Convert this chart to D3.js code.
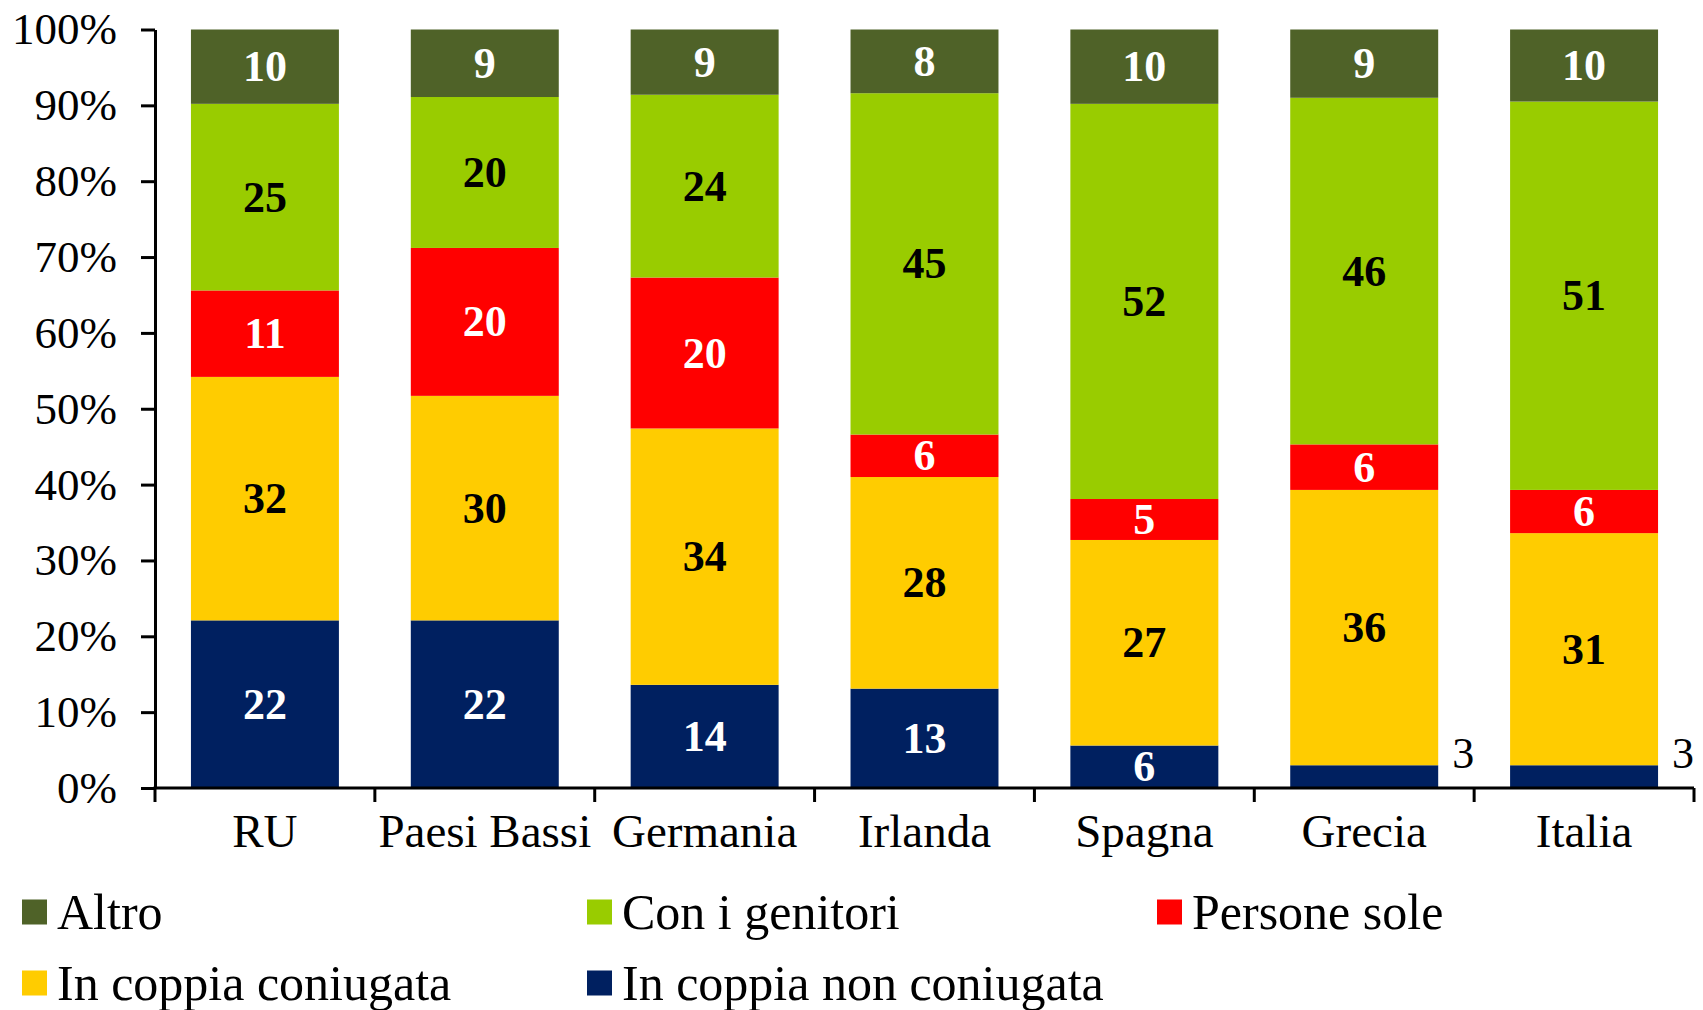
<!DOCTYPE html>
<meta charset="utf-8">
<style>
  body { margin: 0; background: #fff; }
  text { font-family: "Liberation Serif", "Times New Roman", serif; }
</style>
<svg width="1703" height="1010"></svg>
<script src="https://d3js.org/d3.v7.min.js"></script>
<script>

// dati (percentuali)
var categories = ["RU", "Paesi Bassi", "Germania", "Irlanda", "Spagna", "Grecia", "Italia"];
var seriesNames = ["In coppia non coniugata", "In coppia coniugata", "Persone sole", "Con i genitori", "Altro"];
var nonConiugata = [22.1, 22.1, 13.6, 13.1, 5.6, 3.0, 3.0];
var coniugata    = [32.1, 29.6, 33.8, 27.9, 27.1, 36.3, 30.6];
var sole         = [11.4, 19.5, 19.9, 5.6, 5.4, 6.0, 5.7];
var genitori     = [24.6, 19.9, 24.1, 45.0, 52.1, 45.7, 51.2];
var altro        = [9.8, 8.9, 8.6, 8.4, 9.8, 9.0, 9.5];
var yTicks = [0, 10, 20, 30, 40, 50, 60, 70, 80, 90, 100];

var colors = ["#002060", "#FFCC00", "#FF0000", "#99CC00", "#4F6228"];
var labelColors = ["#fff", "#000", "#fff", "#000", "#fff"];

var rows = categories.map(function(c, i) {
  return {
    cat: c,
    "In coppia non coniugata": nonConiugata[i],
    "In coppia coniugata": coniugata[i],
    "Persone sole": sole[i],
    "Con i genitori": genitori[i],
    "Altro": altro[i]
  };
});

var svg = d3.select("svg");

var x = d3.scaleBand().domain(categories).range([155, 1694]).padding(0);
var barW = x.bandwidth() * 0.673;
var y = d3.scaleLinear().domain([0, 100]).range([788, 29.5]);

var stack = d3.stack().keys(seriesNames)(rows);

// barre
var layer = svg.append("g").selectAll("g")
  .data(stack)
  .enter().append("g")
    .attr("fill", function(d, i) { return colors[i]; });

layer.selectAll("rect")
  .data(function(d) { return d; })
  .enter().append("rect")
    .attr("x", function(d) { return x(d.data.cat) + (x.bandwidth() - barW) / 2; })
    .attr("width", barW)
    .attr("y", function(d) { return y(d[1]); })
    .attr("height", function(d) { return y(d[0]) - y(d[1]); });

// etichette valori (i segmenti piccoli hanno l'etichetta fuori, a destra)
function small(d) { return (d[1] - d[0]) < 4; }

layer.each(function(s, si) {
  d3.select(this).selectAll("text")
    .data(s)
    .enter().append("text")
      .attr("font-size", "44px")
      .attr("font-weight", function(d) { return small(d) ? "normal" : "bold"; })
      .attr("text-anchor", function(d) { return small(d) ? "start" : "middle"; })
      .attr("x", function(d) {
        var x0 = x(d.data.cat) + (x.bandwidth() - barW) / 2;
        return small(d) ? x0 + barW + 14 : x0 + barW / 2;
      })
      .attr("y", function(d) {
        return small(d) ? y(d[1]) - 12 : y((d[0] + d[1]) / 2);
      })
      .attr("dy", "0.33em")
      .attr("fill", function(d) { return small(d) ? "#000" : labelColors[si]; })
      .text(function(d) { return Math.round(d[1] - d[0]); });
});

// asse y
var yAxis = svg.append("g")
  .attr("transform", "translate(155,0)")
  .call(d3.axisLeft(y).tickValues(yTicks).tickFormat(function(d) { return d + "%"; })
    .tickSize(14).tickSizeOuter(0).tickPadding(24));
yAxis.select(".domain").attr("stroke", "#000").attr("stroke-width", 3);
yAxis.selectAll(".tick line").attr("stroke", "#000").attr("stroke-width", 3);
yAxis.selectAll(".tick text")
  .attr("font-size", "45px")
  .attr("font-family", "Liberation Serif")
  .attr("fill", "#000");

// asse x
var xAxis = svg.append("g");
xAxis.append("line")
  .attr("x1", x.range()[0] - 1.5).attr("x2", x.range()[1])
  .attr("y1", y(0)).attr("y2", y(0))
  .attr("stroke", "#000").attr("stroke-width", 3);
var bounds = categories.map(function(c) { return x(c); }).concat([x.range()[1]]);
xAxis.selectAll(".xt")
  .data(bounds)
  .enter().append("line")
    .attr("x1", function(d) { return d; }).attr("x2", function(d) { return d; })
    .attr("y1", y(0)).attr("y2", y(0) + 14)
    .attr("stroke", "#000").attr("stroke-width", 3);
xAxis.selectAll("text")
  .data(categories)
  .enter().append("text")
    .attr("x", function(d) { return x(d) + x.bandwidth() / 2; })
    .attr("y", 847)
    .attr("text-anchor", "middle")
    .attr("font-size", "47px")
    .text(function(d) { return d; });

// legenda
var legendOrder = ["Altro", "Con i genitori", "Persone sole", "In coppia coniugata", "In coppia non coniugata"];
var legX = [22, 587, 1157];
var legY = [912, 983];

var leg = svg.append("g").selectAll("g")
  .data(legendOrder)
  .enter().append("g")
    .attr("transform", function(d, i) {
      return "translate(" + legX[i % 3] + "," + legY[Math.floor(i / 3)] + ")";
    });

leg.append("rect")
  .attr("x", 0).attr("y", -12.5)
  .attr("width", 25).attr("height", 25)
  .attr("fill", function(d) { return colors[seriesNames.indexOf(d)]; });

leg.append("text")
  .attr("x", 35)
  .attr("dy", "0.33em")
  .attr("font-size", "50px")
  .text(function(d) { return d; });

</script>
